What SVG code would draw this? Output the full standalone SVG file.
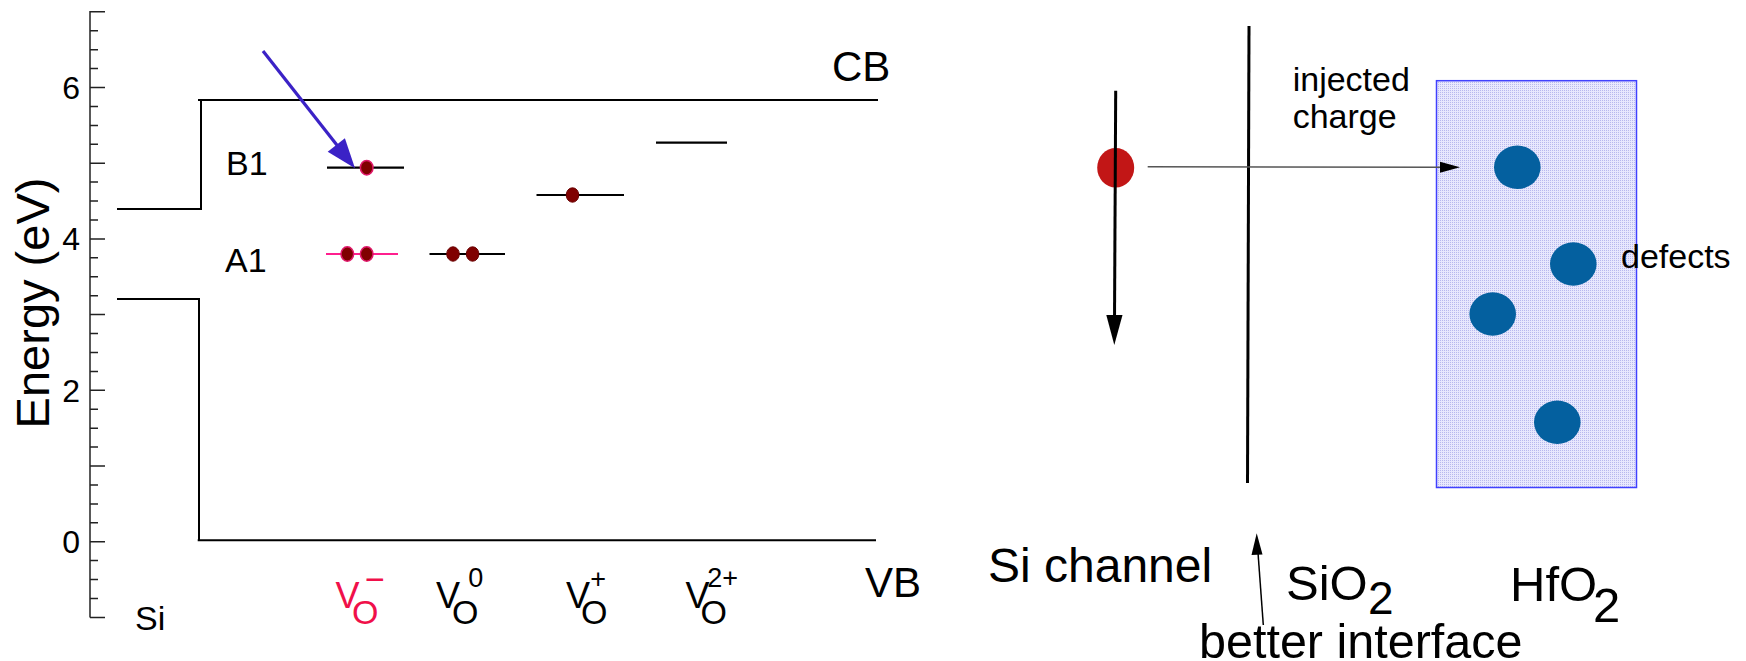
<svg xmlns="http://www.w3.org/2000/svg" width="1746" height="661" viewBox="0 0 1746 661">
<style>
  text { font-family: "Liberation Sans", Arial, sans-serif; fill: #000; }
  .band { stroke: #000; stroke-width: 2; fill: none; }
  .tick { stroke: #222; stroke-width: 1.5; fill: none; }
  .lvl { stroke: #000; stroke-width: 2.2; }
  .lvlpink { stroke: #ff1f8e; stroke-width: 2.2; }
  .dot { fill: #800000; stroke: #6a0000; stroke-width: 1; }
  .dotpink { fill: #800000; stroke: #e0186a; stroke-width: 1.5; }
  .defect { fill: #04609f; }
  .t32 { font-size: 32px; }
  .t34 { font-size: 34px; }
  .t42 { font-size: 42px; }
  .t48 { font-size: 48px; }
  .t49 { font-size: 49px; }
  .v { font-size: 36px; }
  .sup { font-size: 27px; }
  .red { fill: #f0104a; }
</style>
<defs>
  <pattern id="dots" width="2" height="2" patternUnits="userSpaceOnUse">
    <rect width="2" height="2" fill="#e8e8fd"/>
    <rect width="1" height="1" fill="#b8b8ee"/>
  </pattern>
</defs>

<g id="axis">
  <line x1="90" y1="11" x2="90" y2="617.4" class="tick"/>
  <path class="tick" d="M90 617.4H105 M90 598.5H98 M90 579.6H98 M90 560.6H98 M90 541.7H105 M90 522.8H98 M90 503.9H98 M90 484.9H98 M90 466H105 M90 447.1H98 M90 428.2H98 M90 409.2H98 M90 390.3H105 M90 371.4H98 M90 352.5H98 M90 333.5H98 M90 314.6H105 M90 295.7H98 M90 276.8H98 M90 257.8H98 M90 238.9H105 M90 220H98 M90 201H98 M90 182.1H98 M90 163.2H105 M90 144.3H98 M90 125.4H98 M90 106.4H98 M90 87.5H105 M90 68.6H98 M90 49.7H98 M90 30.7H98 M90 11.8H105"/>
  <text class="t32" x="80" y="553.2" text-anchor="end">0</text>
  <text class="t32" x="80" y="401.8" text-anchor="end">2</text>
  <text class="t32" x="80" y="250.4" text-anchor="end">4</text>
  <text class="t32" x="80" y="99" text-anchor="end">6</text>
  <text font-size="47" transform="translate(49,303) rotate(-90)" text-anchor="middle">Energy (eV)</text>
</g>

<g id="bands">
  <polyline class="band" points="117,209 201,209 201,100"/>
  <line class="band" x1="198" y1="100" x2="878" y2="100"/>
  <polyline class="band" points="117,299 199,299 199,540.3"/>
  <line class="band" x1="197.7" y1="540.3" x2="876" y2="540.3"/>
  <text class="t42" x="832" y="81">CB</text>
  <text class="t42" x="865" y="597">VB</text>
  <text class="t34" x="135" y="630">Si</text>
</g>

<g id="level-B1">
  <line class="lvl" x1="327" y1="167.7" x2="404" y2="167.7"/>
  <ellipse class="dotpink" cx="366.7" cy="167.7" rx="6.3" ry="7.2"/>
  <text class="t34" x="226" y="175">B1</text>
</g>
<g id="level-A1">
  <line class="lvlpink" x1="326" y1="254" x2="398" y2="254"/>
  <ellipse class="dotpink" cx="347.3" cy="254" rx="6.3" ry="7.2"/>
  <ellipse class="dotpink" cx="366.7" cy="254" rx="6.3" ry="7.2"/>
  <text class="t34" x="225" y="272">A1</text>
</g>
<g id="level-VO0">
  <line class="lvl" x1="429.5" y1="254" x2="505" y2="254"/>
  <ellipse class="dot" cx="453" cy="254" rx="6.3" ry="7.2"/>
  <ellipse class="dot" cx="472.6" cy="254" rx="6.3" ry="7.2"/>
</g>
<g id="level-VOplus">
  <line class="lvl" x1="536.5" y1="195" x2="624" y2="195"/>
  <ellipse class="dot" cx="572.5" cy="195" rx="6.3" ry="7.2"/>
</g>
<g id="level-VO2plus">
  <line class="lvl" x1="656" y1="142.7" x2="727" y2="142.7"/>
</g>

<g id="labels-VO">
  <text class="t34 red"><tspan class="v" x="335.5" y="608">V</tspan><tspan x="352" y="624">O</tspan><tspan x="365" y="590.5">−</tspan></text>
  <text class="t34"><tspan class="v" x="436" y="608">V</tspan><tspan x="452" y="624">O</tspan><tspan class="sup" x="468.3" y="586.7">0</tspan></text>
  <text class="t34"><tspan class="v" x="566" y="608">V</tspan><tspan x="581" y="624">O</tspan><tspan class="sup" x="590.3" y="588">+</tspan></text>
  <text class="t34"><tspan class="v" x="685.5" y="608">V</tspan><tspan x="700.5" y="624">O</tspan><tspan class="sup" x="707.3" y="587">2+</tspan></text>
</g>

<g id="si-channel">
  <ellipse cx="1115.7" cy="167.7" rx="18.5" ry="19.7" fill="#c21616"/>
  <text class="t48" x="988" y="582.3">Si channel</text>
</g>

<g id="interface">
  <line x1="1249" y1="26" x2="1247.5" y2="483" stroke="#000" stroke-width="3"/>
  <text class="t49"><tspan x="1286" y="600">SiO</tspan><tspan font-size="46" x="1368" y="614">2</tspan></text>
  <text font-size="48.5" x="1199" y="658">better interface</text>
</g>

<g id="hfo2">
  <rect x="1436.5" y="80.7" width="200" height="406.8" fill="url(#dots)" stroke="#4040ff" stroke-width="1.5"/>
  <ellipse class="defect" cx="1517.3" cy="167.3" rx="23.3" ry="21.7"/>
  <ellipse class="defect" cx="1573.3" cy="264" rx="23.3" ry="21.7"/>
  <ellipse class="defect" cx="1492.7" cy="314" rx="23.3" ry="21.7"/>
  <ellipse class="defect" cx="1557.3" cy="422.3" rx="23.3" ry="21.7"/>
  <text class="t34" x="1621" y="268.3">defects</text>
  <text class="t49"><tspan x="1510" y="600.5">HfO</tspan><tspan x="1593" y="621.7">2</tspan></text>
  <text class="t34"><tspan x="1292.7" y="90.7">injected</tspan><tspan x="1292.7" y="128.3">charge</tspan></text>
</g>

<g id="connectors">
  <line x1="263" y1="51" x2="340" y2="149" stroke="#3b22c6" stroke-width="3.2"/>
  <polygon points="355,168.3 327.7,151.8 344.9,138.2" fill="#3b22c6"/>
  <line x1="1115.7" y1="90.7" x2="1114.5" y2="320" stroke="#000" stroke-width="3"/>
  <polygon points="1106.3,315 1122.5,315 1114.3,345" fill="#000"/>
  <line x1="1147.7" y1="166.7" x2="1442" y2="167.3" stroke="#555" stroke-width="1.5"/>
  <polygon points="1460,167.3 1440,161.8 1440,172.8" fill="#000"/>
  <line x1="1263.3" y1="625" x2="1257.8" y2="550" stroke="#000" stroke-width="1.5"/>
  <polygon points="1256.7,533.3 1251.5,555 1262.5,554.5" fill="#000"/>
</g>
</svg>
